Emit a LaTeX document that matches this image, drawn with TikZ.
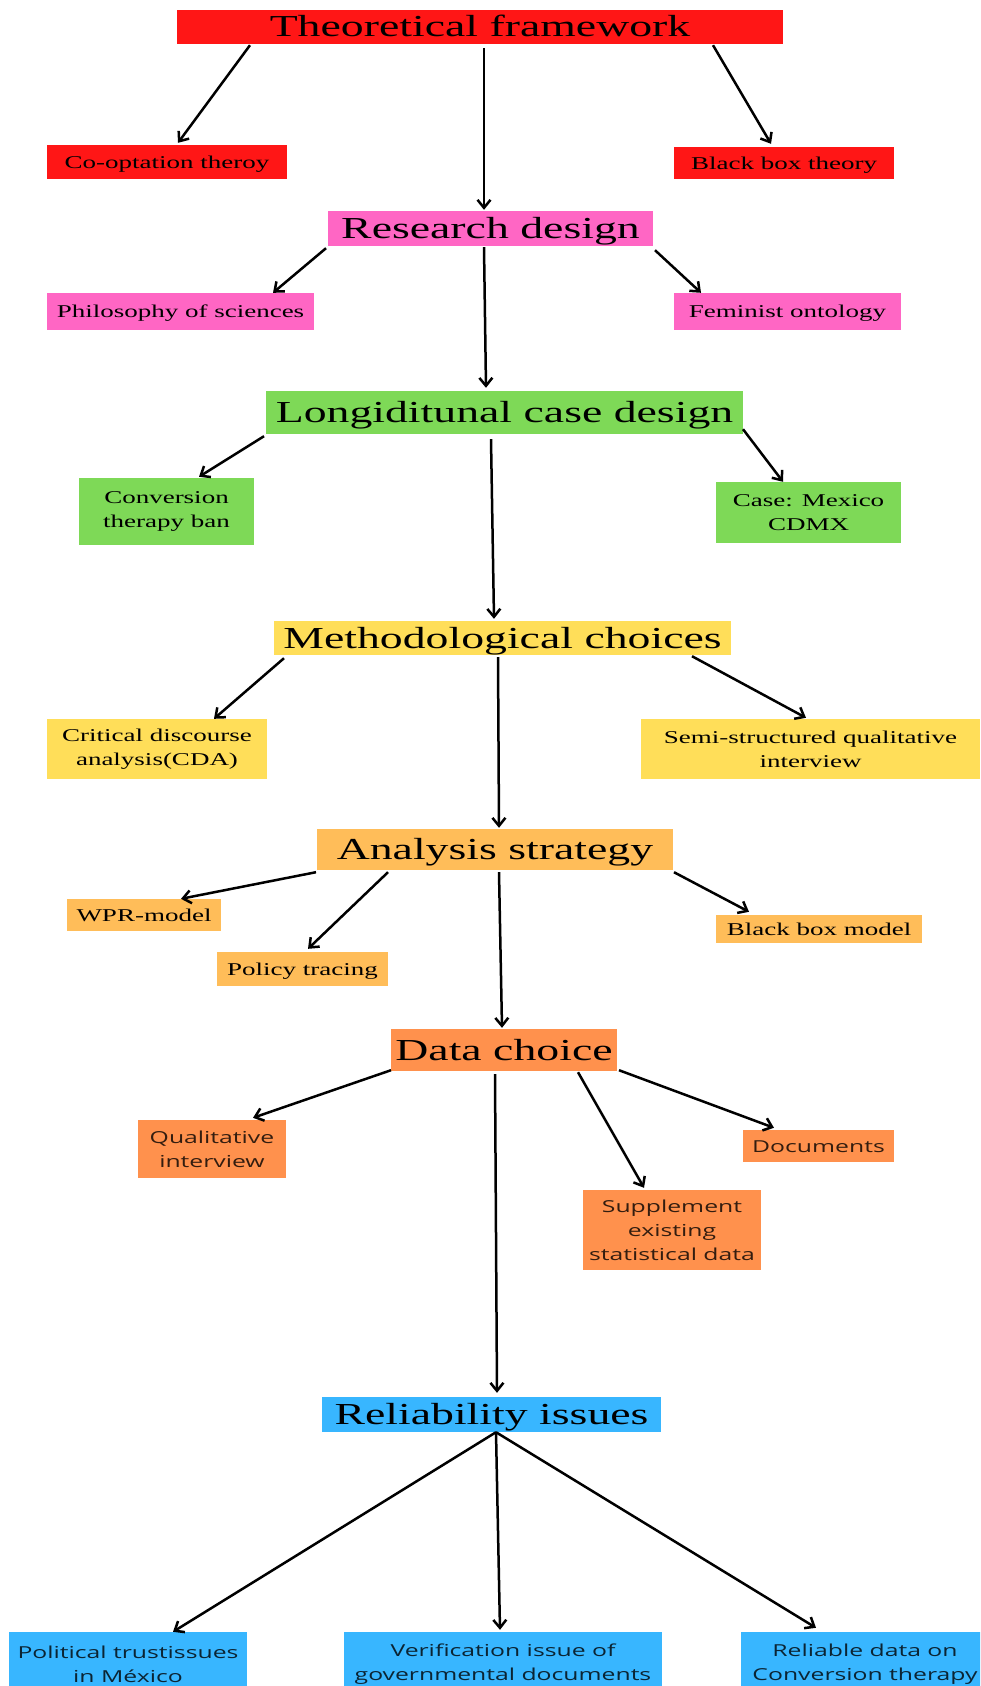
\documentclass[tikz,border=0pt]{standalone}
\usepackage{fontspec}
\newfontfamily\wideserif{Liberation Serif}[FakeStretch=1.5]
\newfontfamily\widesans{Open Sans}[FakeStretch=1.5]
\usetikzlibrary{arrows.meta}
\definecolor{cred}{HTML}{FF1616}
\definecolor{cpink}{HTML}{FF66C4}
\definecolor{cgreen}{HTML}{7ED957}
\definecolor{cyellow}{HTML}{FFDE59}
\definecolor{clorange}{HTML}{FFBD59}
\definecolor{corange}{HTML}{FF914D}
\definecolor{cblue}{HTML}{38B6FF}
\begin{document}
\begin{tikzpicture}[x=1pt,y=-1pt,
>={Straight Barb[length=8pt,width=13pt]},
head/.style={rectangle, inner sep=0pt, text height=20, text depth=0, font=\wideserif\fontsize{30.5}{36}\selectfont},
leaf/.style={rectangle, inner sep=0pt, align=center, font=\wideserif\fontsize{18}{24}\selectfont},
oneline/.style={text height=12, text depth=0},
sansleaf/.style={rectangle, inner sep=0pt, align=center, text opacity=.8, font=\widesans\fontsize{16.5}{24}\selectfont}]
\useasboundingbox (0,0) rectangle (980,1686);
\clip (0,0) rectangle (980,1686);
\fill[white] (0,0) rectangle (980,1686);
% framework
\node[head, fill=cred, minimum width=606, minimum height=34] (tf) at (480,27) {Theoretical framework};
\node[leaf, oneline, fill=cred, minimum width=240, minimum height=34] (coopt) at (167,162) {Co-optation theroy};
\node[leaf, oneline, fill=cred, minimum width=220, minimum height=32] (bbt) at (784,163) {Black box theory};
% design
\node[head, fill=cpink, minimum width=325, minimum height=35] (rd) at (490.5,228.5) {Research design};
\node[leaf, oneline, fill=cpink, minimum width=267, minimum height=37] (phil) at (180.5,311.5) {Philosophy of sciences};
\node[leaf, oneline, fill=cpink, minimum width=227, minimum height=37] (fem) at (787.5,311.5) {Feminist ontology};
\node[head, fill=cgreen, minimum width=477, minimum height=43] (lcd) at (504.5,412.5) {Longiditunal case design};
\node[leaf, fill=cgreen, minimum width=175, minimum height=67] (conv) at (166.5,511.5) {Conversion\\therapy ban};
\node[leaf, fill=cgreen, minimum width=185, minimum height=61] (cdmx) at (808.5,512.5) {Case: Mexico\\CDMX};
% methods
\node[head, fill=cyellow, minimum width=457, minimum height=34] (mc) at (502.5,638) {Methodological choices};
\node[leaf, fill=cyellow, minimum width=220, minimum height=60] (cda) at (157,749) {Critical discourse\\analysis(CDA)};
\node[leaf, fill=cyellow, minimum width=339, minimum height=60] (semi) at (810.5,749) {Semi-structured qualitative\\interview};
\node[head, fill=clorange, minimum width=356, minimum height=41] (strat) at (495,849.5) {Analysis strategy};
\node[leaf, oneline, fill=clorange, minimum width=154, minimum height=32] (wpr) at (144,915) {WPR-model};
\node[leaf, oneline, fill=clorange, minimum width=171, minimum height=34] (tracing) at (302.5,969) {Policy tracing};
\node[leaf, oneline, fill=clorange, minimum width=206, minimum height=28] (bbm) at (819,929) {Black box model};
% data
\node[head, fill=corange, minimum width=226, minimum height=42] (dc) at (504,1050) {Data choice};
\node[sansleaf, fill=corange, minimum width=148, minimum height=58] (qual) at (212,1149) {Qualitative\\interview};
\node[sansleaf, fill=corange, minimum width=178, minimum height=80] (supp) at (672,1230) {Supplement\\existing\\statistical data};
\node[sansleaf, oneline, fill=corange, minimum width=151, minimum height=32] (docs) at (818.5,1146) {Documents};
\node[head, fill=cblue, minimum width=339, minimum height=35] (ri) at (491.5,1414.5) {Reliability issues};
\node[sansleaf, fill=cblue, minimum width=238, minimum height=64] (trust) at (128,1664) {Political trustissues\\in México};
\node[sansleaf, fill=cblue, minimum width=318, minimum height=64] (verif) at (503,1664) {Verification issue of\\governmental documents};
\node[sansleaf, fill=cblue, minimum width=248, minimum height=64] (reldata) at (865,1664) {Reliable data on\\Conversion therapy};
\begin{scope}[->, line width=2.5pt]
\draw ([shift={(-230,1)}]tf.south) -- ([shift={(11,-2)}]coopt.north);
\draw ([shift={(233,1)}]tf.south) -- ([shift={(-13,-3)}]bbt.north);
\draw ([shift={(4,4)}]tf.south) -- ([shift={(-6.5,-1)}]rd.north);
\draw ([shift={(-164.5,2)}]rd.south) -- ([shift={(92.5,0)}]phil.north);
\draw ([shift={(164.5,4)}]rd.south) -- ([shift={(-86.5,0)}]fem.north);
\draw ([shift={(-6.5,1)}]rd.south) -- ([shift={(-18.5,-3)}]lcd.north);
\draw ([shift={(-240.5,2)}]lcd.south) -- ([shift={(32.5,-1)}]conv.north);
\draw ([shift={(238.5,-5)}]lcd.south) -- ([shift={(-25.5,0)}]cdmx.north);
\draw ([shift={(-13.5,5)}]lcd.south) -- ([shift={(-8.5,-2)}]mc.north);
\draw ([shift={(-218.5,3)}]mc.south) -- ([shift={(57,0)}]cda.north);
\draw ([shift={(189.5,1)}]mc.south) -- ([shift={(-4.5,-1)}]semi.north);
\draw ([shift={(-4.5,2)}]mc.south) -- ([shift={(4,-1)}]strat.north);
\draw ([shift={(-179,2)}]strat.south) -- ([shift={(37,0)}]wpr.north);
\draw ([shift={(-107,2)}]strat.south) -- ([shift={(5.5,-3)}]tracing.north);
\draw ([shift={(179,2)}]strat.south) -- ([shift={(-70,-3)}]bbm.north);
\draw ([shift={(4,2)}]strat.south) -- ([shift={(-2,-1)}]dc.north);
\draw ([shift={(-113,-1)}]dc.south) -- ([shift={(41,-2)}]qual.north);
\draw ([shift={(74,1)}]dc.south) -- ([shift={(-28,-2)}]supp.north);
\draw ([shift={(115,-1)}]dc.south) -- ([shift={(-44.5,-2)}]docs.north);
\draw ([shift={(-9,3)}]dc.south) -- ([shift={(5.5,-4)}]ri.north);
\draw ([shift={(4.5,0)}]ri.south) -- ([shift={(45,0)}]trust.north);
\draw ([shift={(4.5,0)}]ri.south) -- ([shift={(-3,-2)}]verif.north);
\draw ([shift={(4.5,0)}]ri.south) -- ([shift={(-49,-4)}]reldata.north);
\end{scope}
\end{tikzpicture}
\end{document}
